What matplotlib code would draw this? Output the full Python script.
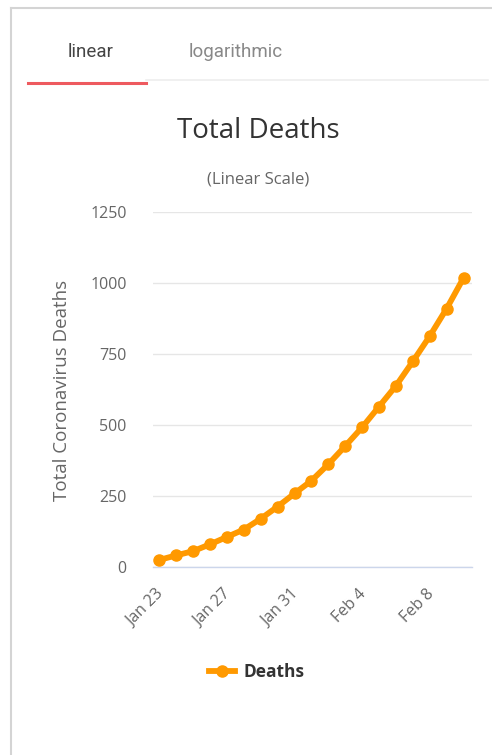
import numpy as np
import matplotlib
matplotlib.use("Agg")
import matplotlib.pyplot as plt
from matplotlib.lines import Line2D

# ── data ───────────────────────────────────────
dates = ["Jan 23", "Jan 24", "Jan 25", "Jan 26", "Jan 27", "Jan 28", "Jan 29",
         "Jan 30", "Jan 31", "Feb 1", "Feb 2", "Feb 3", "Feb 4", "Feb 5",
         "Feb 6", "Feb 7", "Feb 8", "Feb 9", "Feb 10"]
deaths = [25, 41, 56, 80, 106, 132, 170, 213, 259, 304, 362, 426, 492, 565,
          638, 724, 813, 910, 1018]
y_ticks = [0, 250, 500, 750, 1000, 1250]

ORANGE = '#ff9900'
TEXT = '#666666'

plt.rcParams['font.family'] = ['Open Sans', 'DejaVu Sans']

W, H = 492, 755
fig = plt.figure(figsize=(W / 100, H / 100), dpi=100)
fig.patch.set_facecolor('white')

def fx(px):
    return px / W

def fy(py):
    return 1 - py / H

# ── page frame and tabs ────────────────────────
fig.add_artist(Line2D([fx(11), fx(11)], [fy(8), fy(755)], color='#d4d4d4', lw=1.5))
fig.add_artist(Line2D([fx(11), fx(492)], [fy(8), fy(8)], color='#d4d4d4', lw=1.5))
fig.add_artist(Line2D([fx(146), fx(488)], [fy(80), fy(80)], color='#eeeeee', lw=1.2))
fig.add_artist(Line2D([fx(28), fx(146)], [fy(83), fy(83)], color='#ee5a5f', lw=2.2))
fig.text(fx(91), fy(52), "linear", ha='center', va='center', fontsize=13.5,
         color='#444444', family=['Roboto', 'DejaVu Sans'])
fig.text(fx(236), fy(52), "logarithmic", ha='center', va='center', fontsize=13.5,
         color='#888888', family=['Roboto', 'DejaVu Sans'])

# ── titles ────────────────────────────────────
fig.text(fx(258), fy(131), "Total Deaths", ha='center', va='center',
         fontsize=20, color='#333333')
fig.text(fx(258), fy(179), "(Linear Scale)", ha='center', va='center',
         fontsize=12, color=TEXT)

# ── chart ─────────────────────────────────────
ax = fig.add_axes([fx(153), fy(567), fx(472) - fx(153), fy(212) - fy(567)])
x = np.arange(len(dates))
ax.plot(x, deaths, color=ORANGE, lw=4.2, marker='o', ms=8, solid_capstyle='round',
        label='Deaths', zorder=3)

ax.set_ylim(0, 1250)
ax.set_xlim(-0.38, 18.5)
ax.set_yticks(y_ticks)
ax.set_yticklabels([str(v) for v in y_ticks])
tick_idx = [0, 4, 8, 12, 16]
ax.set_xticks(tick_idx)
ax.set_xticklabels([dates[i] for i in tick_idx], rotation=45, ha='right',
                   rotation_mode='anchor')

ax.grid(axis='y', color='#e6e6e6', lw=1)
ax.set_axisbelow(True)
for s in ['top', 'right', 'left']:
    ax.spines[s].set_visible(False)
ax.spines['bottom'].set_color('#ccd6eb')
ax.spines['bottom'].set_linewidth(1)
ax.tick_params(axis='y', length=0, pad=19, labelsize=11.5, labelcolor=TEXT)
ax.tick_params(axis='x', length=0, pad=14, labelsize=11.5, labelcolor=TEXT)
# nudge date labels a little to the left, as in the original
for lbl in ax.get_xticklabels():
    lbl.set_x(lbl.get_position()[0])
import matplotlib.transforms as mtrans
offset = mtrans.ScaledTranslation(-4 / 100, 0, fig.dpi_scale_trans)
for lbl in ax.get_xticklabels():
    lbl.set_transform(lbl.get_transform() + offset)

fig.text(fx(62), fy(390), "Total Coronavirus Deaths", rotation=90,
         ha='center', va='center', fontsize=13.5, color=TEXT)

leg = fig.legend(handles=[Line2D([], [], color=ORANGE, lw=4.2, marker='o', ms=8)],
                 labels=['Deaths'], loc='center', bbox_to_anchor=(fx(257), fy(672)),
                 frameon=False, handlelength=1.5, handletextpad=0.5,
                 prop={'weight': 'bold', 'size': 12.5})
for t in leg.get_texts():
    t.set_color('#333333')

fig.savefig('out.png', dpi=100, facecolor='white')
